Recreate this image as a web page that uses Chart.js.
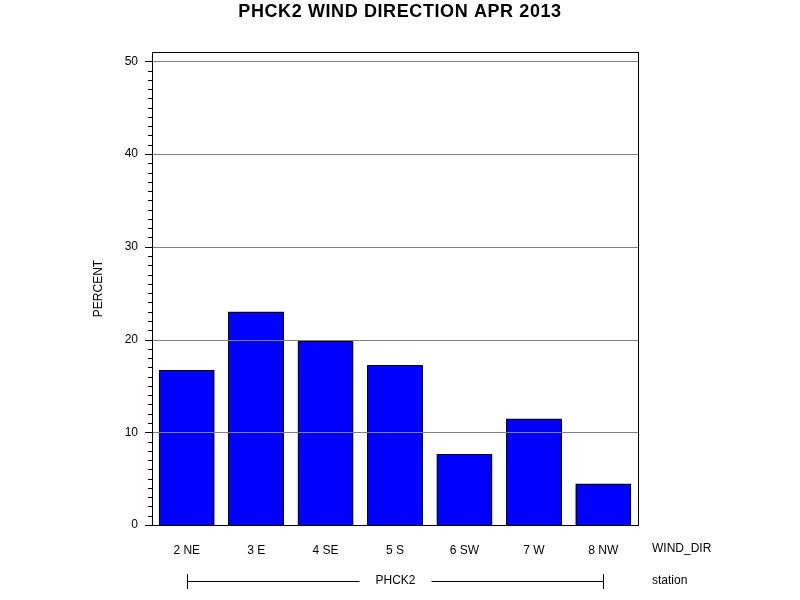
<!DOCTYPE html>
<html>
<head>
<meta charset="utf-8">
<script src="https://cdn.jsdelivr.net/npm/chart.js@4"></script>
<style>
html,body{margin:0;padding:0;background:#fff;}
#wrap{width:800px;height:600px;}
</style>
</head>
<body>
<div id="wrap"><canvas id="c" width="800" height="600"></canvas></div>
<script>
const title = 'PHCK2 WIND DIRECTION APR 2013';
const categories = ['2 NE','3 E','4 SE','5 S','6 SW','7 W','8 NW'];
const percents = [16.7, 23.0, 19.8, 17.2, 7.65, 11.45, 4.45];
const yMajorTicks = [0, 10, 20, 30, 40, 50];
const yAxisTitle = 'PERCENT';
const xAxisTitle = 'WIND_DIR';
const groupLabel = 'PHCK2';
const groupTitle = 'station';

const FONT = 'Arial, "Liberation Sans", sans-serif';

const decor = {
  id: 'decor',
  afterDatasetsDraw(chart) {
    const ctx = chart.ctx;
    const a = chart.chartArea;
    const y = chart.scales.y;
    ctx.save();
    ctx.lineWidth = 1;
    // crisp bar outlines
    ctx.strokeStyle = '#000';
    chart.getDatasetMeta(0).data.forEach(el => {
      const p = el.getProps(['x', 'y', 'base', 'width'], true);
      const l = Math.round(p.x - p.width / 2) + 0.5;
      const r = Math.round(p.x + p.width / 2) - 0.5;
      const t = Math.round(p.y) + 0.5;
      const b = Math.round(p.base) + 0.5;
      ctx.beginPath();
      ctx.moveTo(l, b); ctx.lineTo(l, t); ctx.lineTo(r, t); ctx.lineTo(r, b);
      ctx.stroke();
    });
    // grid lines over the bars
    ctx.strokeStyle = '#808080';
    yMajorTicks.forEach(v => {
      if (v === 0) return;
      const py = Math.round(y.getPixelForValue(v)) + 0.5;
      ctx.beginPath();
      ctx.moveTo(a.left, py);
      ctx.lineTo(a.right, py);
      ctx.stroke();
    });
    ctx.restore();
  },
  afterDraw(chart) {
    const ctx = chart.ctx;
    const a = chart.chartArea;
    const y = chart.scales.y;
    const x = chart.scales.x;
    ctx.save();
    ctx.strokeStyle = '#000';
    ctx.lineWidth = 1;
    ctx.strokeRect(Math.round(a.left) + 0.5, Math.round(a.top) + 0.5, Math.round(a.right - a.left), Math.round(a.bottom - a.top));
    for (let v = 0; v <= 50; v++) {
      const py = Math.round(y.getPixelForValue(v)) + 0.5;
      const len = (yMajorTicks.includes(v)) ? 7 : 4;
      ctx.beginPath();
      ctx.moveTo(a.left - len, py);
      ctx.lineTo(a.left, py);
      ctx.stroke();
    }
    ctx.fillStyle = '#000';
    ctx.font = 'bold 18px ' + FONT;
    ctx.textAlign = 'center';
    ctx.textBaseline = 'middle';
    if ('letterSpacing' in ctx) ctx.letterSpacing = '0.6px';
    ctx.fillText(title, 400, 12);
    if ('letterSpacing' in ctx) ctx.letterSpacing = '0px';
    ctx.font = '12px ' + FONT;
    ctx.save();
    ctx.translate(99, (a.top + a.bottom) / 2);
    ctx.rotate(-Math.PI / 2);
    ctx.fillText(yAxisTitle, 0, 0);
    ctx.restore();
    ctx.textAlign = 'left';
    ctx.fillText(xAxisTitle, 652, 549);
    ctx.fillText(groupTitle, 652, 581);
    const x1 = Math.round(x.getPixelForValue(0)) + 0.5;
    const x2 = Math.round(x.getPixelForValue(categories.length - 1)) + 0.5;
    const gy = 581.5;
    const mid = (x1 + x2) / 2;
    ctx.textAlign = 'center';
    ctx.fillText(groupLabel, mid, 581);
    ctx.beginPath();
    ctx.moveTo(x1, 574); ctx.lineTo(x1, 589);
    ctx.moveTo(x2, 574); ctx.lineTo(x2, 589);
    ctx.moveTo(x1, gy); ctx.lineTo(mid - 36, gy);
    ctx.moveTo(mid + 36, gy); ctx.lineTo(x2, gy);
    ctx.stroke();
    ctx.restore();
  }
};

new Chart(document.getElementById('c'), {
  type: 'bar',
  data: {
    labels: categories,
    datasets: [{
      data: percents,
      backgroundColor: '#0000FF',
      borderWidth: 0,
      barPercentage: 0.8,
      categoryPercentage: 1.0
    }]
  },
  options: {
    responsive: false,
    animation: false,
    devicePixelRatio: 1,
    layout: { padding: { left: 0, right: 162, top: 52, bottom: 0 } },
    plugins: { legend: { display: false }, tooltip: { enabled: false }, title: { display: false } },
    scales: {
      x: {
        afterFit(s) { s.height = 75; },
        grid: { display: false, drawTicks: false },
        border: { display: true, color: '#000' },
        ticks: { color: '#000', font: { family: FONT, size: 12 }, padding: 18, maxRotation: 0 }
      },
      y: {
        min: 0,
        max: 51,
        afterFit(s) { s.width = 152; },
        afterBuildTicks(s) { s.ticks = yMajorTicks.map(v => ({ value: v })); },
        grid: { display: false, drawTicks: false },
        border: { display: true, color: '#000' },
        ticks: { color: '#000', font: { family: FONT, size: 12 }, padding: 14 }
      }
    }
  },
  plugins: [decor]
});
</script>
</body>
</html>
